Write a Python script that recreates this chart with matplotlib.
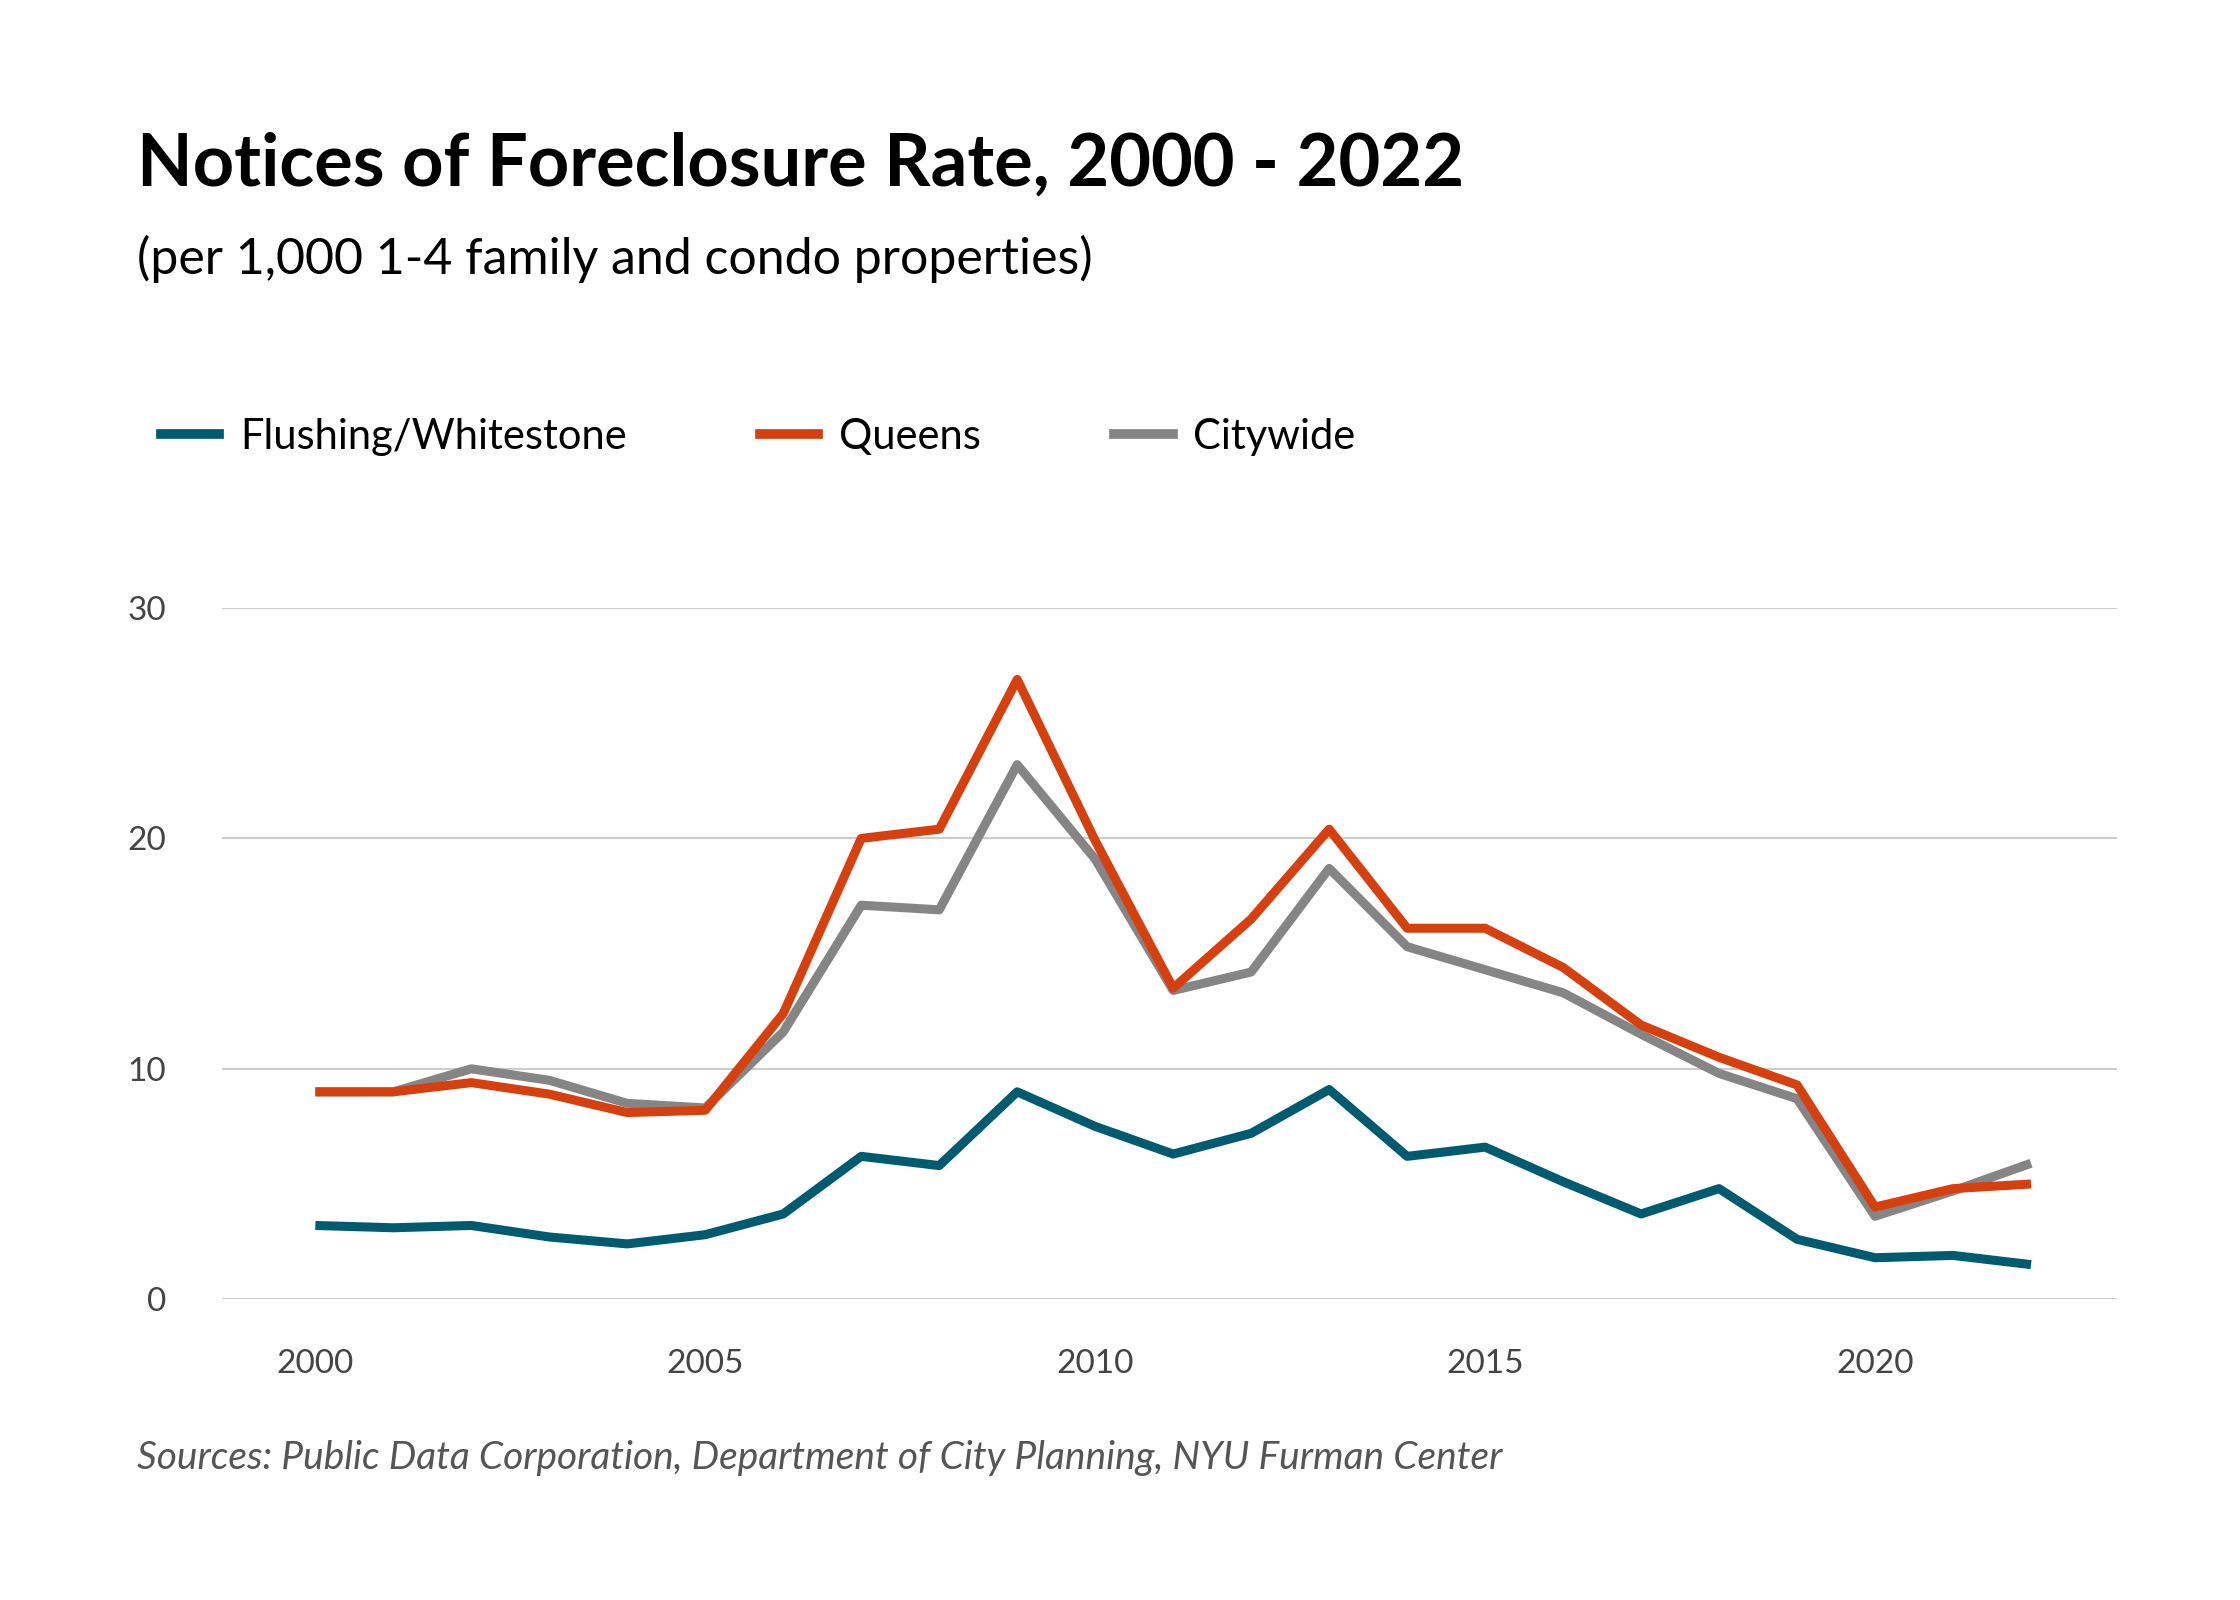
import matplotlib
matplotlib.use("Agg")
import matplotlib.pyplot as plt
from matplotlib.lines import Line2D

years = list(range(2000, 2023))
flushing = [3.2, 3.1, 3.2, 2.7, 2.4, 2.8, 3.7, 6.2, 5.8, 9.0, 7.5, 6.3, 7.2, 9.1,
            6.2, 6.6, 5.1, 3.7, 4.8, 2.6, 1.8, 1.9, 1.5]
queens = [9.0, 9.0, 9.4, 8.9, 8.1, 8.2, 12.4, 20.0, 20.4, 26.9, 19.9, 13.5, 16.5, 20.4,
          16.1, 16.1, 14.4, 11.9, 10.5, 9.3, 4.0, 4.8, 5.0]
citywide = [9.0, 9.0, 10.0, 9.5, 8.5, 8.3, 11.6, 17.1, 16.9, 23.2, 19.1, 13.4, 14.2, 18.7,
            15.3, 14.3, 13.3, 11.5, 9.8, 8.7, 3.6, 4.7, 5.9]
names = ["Flushing/Whitestone", "Queens", "Citywide"]
colors = ["#005a70", "#d6400f", "#858585"]

plt.rcParams['font.family'] = ['Lato', 'DejaVu Sans']
fig = plt.figure(figsize=(22.4, 16), dpi=100)
ax = fig.add_axes([0.099, 0.188, 0.846, 0.432])

# grey first so the others sit on top where they touch
ax.plot(years, citywide, color=colors[2], lw=6.5, solid_capstyle='butt', zorder=3)
ax.plot(years, queens, color=colors[1], lw=6.5, solid_capstyle='butt', zorder=4)
ax.plot(years, flushing, color=colors[0], lw=6.5, solid_capstyle='butt', zorder=5)

ax.set_ylim(0, 30)
ax.set_xlim(1998.8, 2023.1)
ax.set_yticks([0, 10, 20, 30])
ax.set_xticks([2000, 2005, 2010, 2015, 2020])
ax.grid(axis='y', color='#cccccc', lw=1.5)
ax.set_axisbelow(True)
for s in ax.spines.values():
    s.set_visible(False)
ax.tick_params(length=0, labelsize=24, colors='#444444')
ax.tick_params(axis='y', pad=40)
ax.tick_params(axis='x', pad=36)

fig.text(0.061, 0.897, "Notices of Foreclosure Rate, 2000 - 2022", fontsize=52,
         fontweight='bold', va='center')
fig.text(0.061, 0.838, "(per 1,000 1-4 family and condo properties)", fontsize=36, va='center')
fig.text(0.061, 0.089, "Sources: Public Data Corporation, Department of City Planning, NYU Furman Center",
         fontsize=28, style='italic', color='#555555', va='center')

handles = [Line2D([], [], color=c, lw=7) for c in colors]
fig.legend(handles, names, loc='center left', bbox_to_anchor=(0.055, 0.727), ncol=3,
           frameon=False, fontsize=30, handlelength=1.4, handletextpad=0.5, columnspacing=3.2)

fig.savefig("out.png", dpi=100, facecolor='white')
